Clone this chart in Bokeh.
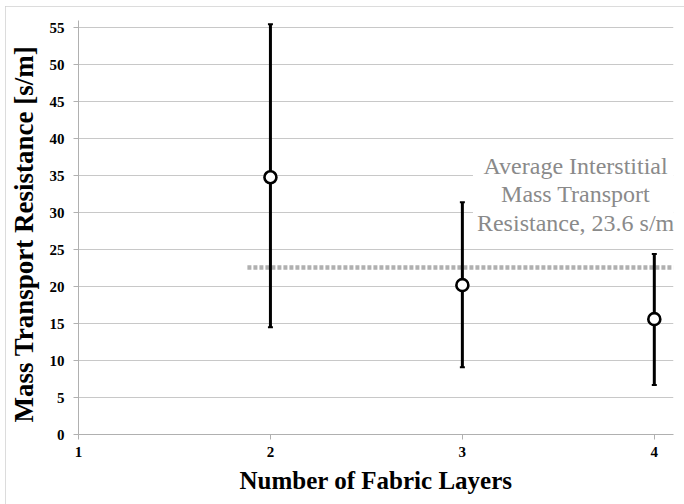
from bokeh.plotting import figure
from bokeh.models import Range1d, FixedTicker, Label
from bokeh.embed import file_html
from bokeh.resources import INLINE

# ---- data ----
layers = [2, 3, 4]
mean_res = [34.8, 20.2, 15.6]
upper_res = [55.5, 31.4, 24.4]
lower_res = [14.5, 9.1, 6.7]

avg_x = [1.88, 4.1]
avg_y = [22.6, 22.6]
avg_text = "Average Interstitial\nMass Transport\nResistance, 23.6 s/m"

x_ticks = [1, 2, 3, 4]
y_ticks = [0, 5, 10, 15, 20, 25, 30, 35, 40, 45, 50, 55]

FONT = "Liberation Serif"
TICK_FONT = "'Liberation Serif', serif"

p = figure(width=679, height=498, output_backend="svg", toolbar_location=None,
           x_range=Range1d(1, 4.1), y_range=Range1d(0, 56),
           min_border_left=72, min_border_right=11, min_border_top=14, min_border_bottom=70)
p.styles = {"margin-left": "5px", "margin-top": "6px",
            "outline": "1px solid #d0d0d0", "outline-offset": "-1px"}
p.outline_line_color = None
p.background_fill_color = "white"
p.border_fill_color = "white"

p.xgrid.grid_line_color = None
p.ygrid.grid_line_color = "#c8c8c8"
p.ygrid.grid_line_width = 1

p.xaxis.ticker = FixedTicker(ticks=x_ticks)
p.yaxis.ticker = FixedTicker(ticks=y_ticks)
for ax in (p.xaxis, p.yaxis):
    ax.axis_line_color = "#b0b0b0"
    ax.major_tick_line_color = "#b0b0b0"
    ax.major_tick_out = 5
    ax.major_tick_in = 0
    ax.minor_tick_line_color = None
    ax.major_label_text_font = TICK_FONT
    ax.major_label_text_font_style = "bold"
    ax.major_label_text_font_size = "15px"
    ax.major_label_text_color = "black"
    ax.axis_label_text_font = FONT
    ax.axis_label_text_font_style = "bold"
    ax.axis_label_text_color = "black"

p.xaxis.axis_label_text_font_size = "25px"
p.yaxis.axis_label_text_font_size = "27px"
p.xaxis.axis_label = "Number of Fabric Layers"
p.yaxis.axis_label = "Mass Transport Resistance [s/m]\u00a0\u00a0"
p.xaxis.major_label_standoff = 7
p.yaxis.major_label_standoff = 9
p.xaxis.axis_label_standoff = 7
p.yaxis.axis_label_standoff = 8

# average interstitial line
p.line(avg_x, avg_y, line_color="#b0b0b0", line_width=4.5, line_dash="4 2")

# text annotation with white background
lab = Label(x=3.59, y=32.5, text=avg_text, text_align="center", text_baseline="middle",
            text_font=FONT, text_font_size="24px", text_color="#8a8a8a",
            text_line_height=1.1, background_fill_color="white", padding=4)
p.add_layout(lab)

# error bars
p.segment(x0=layers, y0=lower_res, x1=layers, y1=upper_res, line_color="black", line_width=3)
p.scatter(layers, upper_res, marker="dash", size=5, line_color="black", line_width=2)
p.scatter(layers, lower_res, marker="dash", size=5, line_color="black", line_width=2)

# mean markers
p.scatter(layers, mean_res, marker="circle", size=12, fill_color="white",
          line_color="black", line_width=2.6)

open("out.html", "w").write(file_html(p, INLINE))
